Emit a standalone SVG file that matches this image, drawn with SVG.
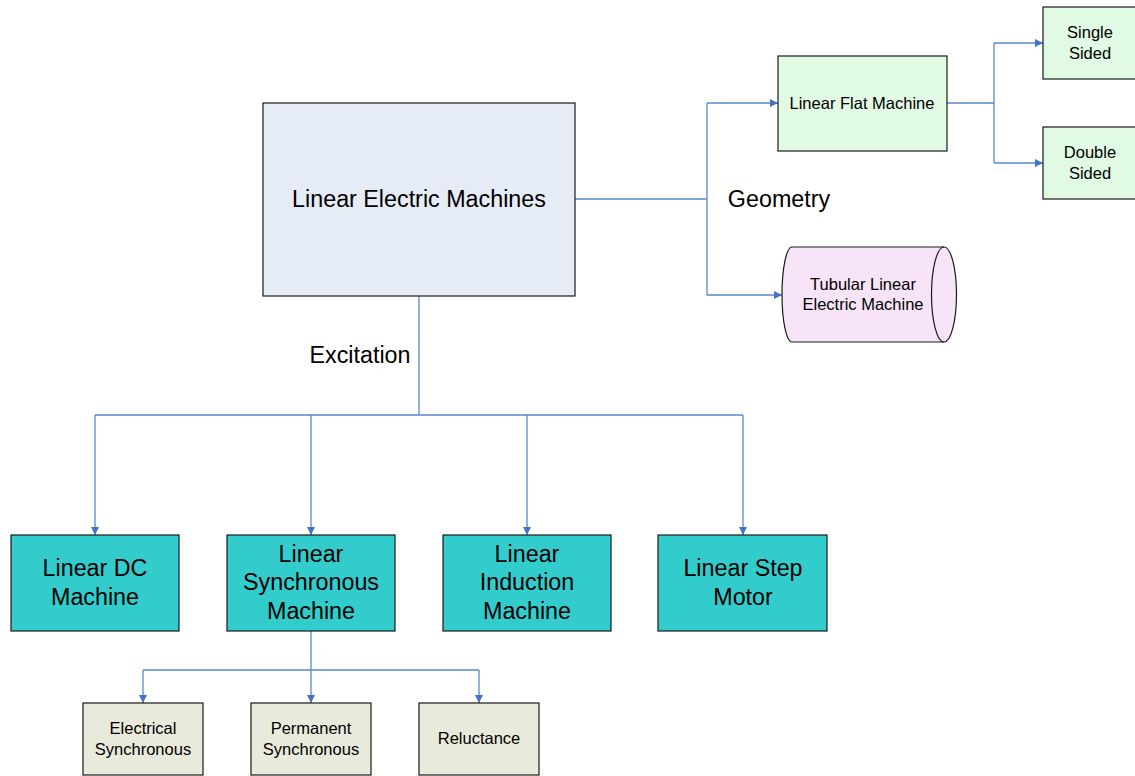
<svg xmlns="http://www.w3.org/2000/svg" width="1135" height="776" viewBox="0 0 1135 776">
<defs>
<marker id="arr" viewBox="0 0 10 10" refX="10" refY="5" markerWidth="8" markerHeight="8" markerUnits="userSpaceOnUse" orient="auto">
<path d="M0,0 L10,5 L0,10 Z" fill="#4472C4"/>
</marker>
<style>
.box{stroke:#1a1a1a;stroke-width:1.2}
.main{fill:#E6ECF6}
.teal{fill:#33CCCC}
.green{fill:#E0FAE4}
.pink{fill:#F8E4F8}
.beige{fill:#E8EADC}
.conn{fill:none;stroke:#5B87CC;stroke-width:1.3}
.big{font-family:"Liberation Sans",Arial,sans-serif;font-size:23.3px;fill:#000;text-anchor:middle}
.small{font-family:"Liberation Sans",Arial,sans-serif;font-size:16.5px;fill:#000;text-anchor:middle}
</style>
</defs>
<rect width="1135" height="776" fill="#fff"/>

<g id="connectors">
<polyline class="conn" points="575,199 707,199"/>
<polyline class="conn" points="707,103 707,295"/>
<polyline class="conn" points="707,103 778,103" marker-end="url(#arr)"/>
<polyline class="conn" points="707,295 782,295" marker-end="url(#arr)"/>
<polyline class="conn" points="947,103 994,103"/>
<polyline class="conn" points="994,43 994,163"/>
<polyline class="conn" points="994,43 1043,43" marker-end="url(#arr)"/>
<polyline class="conn" points="994,163 1043,163" marker-end="url(#arr)"/>
<polyline class="conn" points="419,296 419,415"/>
<polyline class="conn" points="95,415 743,415"/>
<polyline class="conn" points="95,415 95,535" marker-end="url(#arr)"/>
<polyline class="conn" points="311,415 311,535" marker-end="url(#arr)"/>
<polyline class="conn" points="527,415 527,535" marker-end="url(#arr)"/>
<polyline class="conn" points="743,415 743,535" marker-end="url(#arr)"/>
<polyline class="conn" points="311,631 311,670"/>
<polyline class="conn" points="143,670 479,670"/>
<polyline class="conn" points="143,670 143,703" marker-end="url(#arr)"/>
<polyline class="conn" points="311,670 311,703" marker-end="url(#arr)"/>
<polyline class="conn" points="479,670 479,703" marker-end="url(#arr)"/>
<text class="big" x="779" y="207">Geometry</text>
<text class="big" x="360" y="363">Excitation</text>
</g>

<g id="main">
<rect class="box main" x="263" y="103" width="312" height="193"/>
<text class="big" x="419" y="207">Linear Electric Machines</text>
</g>

<g id="flat">
<rect class="box green" x="778" y="56" width="169" height="95"/>
<text class="small" x="862" y="109">Linear Flat Machine</text>
</g>

<g id="single">
<rect class="box green" x="1043" y="7" width="100" height="72"/>
<text class="small" x="1090" y="38">Single</text>
<text class="small" x="1090" y="59">Sided</text>
</g>

<g id="double">
<rect class="box green" x="1043" y="127" width="100" height="72"/>
<text class="small" x="1090" y="158">Double</text>
<text class="small" x="1090" y="179">Sided</text>
</g>

<g id="tubular">
<path class="box pink" d="M792,247 L944,247 A12.5,47.5 0 0 1 944,342 L792,342 A10,47.5 0 0 1 792,247 Z"/>
<path class="box" fill="none" d="M944,247 A12.5,47.5 0 0 0 944,342"/>
<text class="small" x="863" y="290">Tubular Linear</text>
<text class="small" x="863" y="310">Electric Machine</text>
</g>

<g id="dc">
<rect class="box teal" x="11" y="535" width="168" height="96"/>
<text class="big" x="95" y="576">Linear DC</text>
<text class="big" x="95" y="605">Machine</text>
</g>

<g id="sync">
<rect class="box teal" x="227" y="535" width="168" height="96"/>
<text class="big" x="311" y="562">Linear</text>
<text class="big" x="311" y="590">Synchronous</text>
<text class="big" x="311" y="619">Machine</text>
</g>

<g id="induction">
<rect class="box teal" x="443" y="535" width="168" height="96"/>
<text class="big" x="527" y="562">Linear</text>
<text class="big" x="527" y="590">Induction</text>
<text class="big" x="527" y="619">Machine</text>
</g>

<g id="step">
<rect class="box teal" x="658" y="535" width="169" height="96"/>
<text class="big" x="743" y="576">Linear Step</text>
<text class="big" x="743" y="605">Motor</text>
</g>

<g id="electrical">
<rect class="box beige" x="83" y="703" width="120" height="72"/>
<text class="small" x="143" y="734">Electrical</text>
<text class="small" x="143" y="755">Synchronous</text>
</g>

<g id="permanent">
<rect class="box beige" x="251" y="703" width="120" height="72"/>
<text class="small" x="311" y="734">Permanent</text>
<text class="small" x="311" y="755">Synchronous</text>
</g>

<g id="reluctance">
<rect class="box beige" x="419" y="703" width="120" height="72"/>
<text class="small" x="479" y="744">Reluctance</text>
</g>
</svg>
